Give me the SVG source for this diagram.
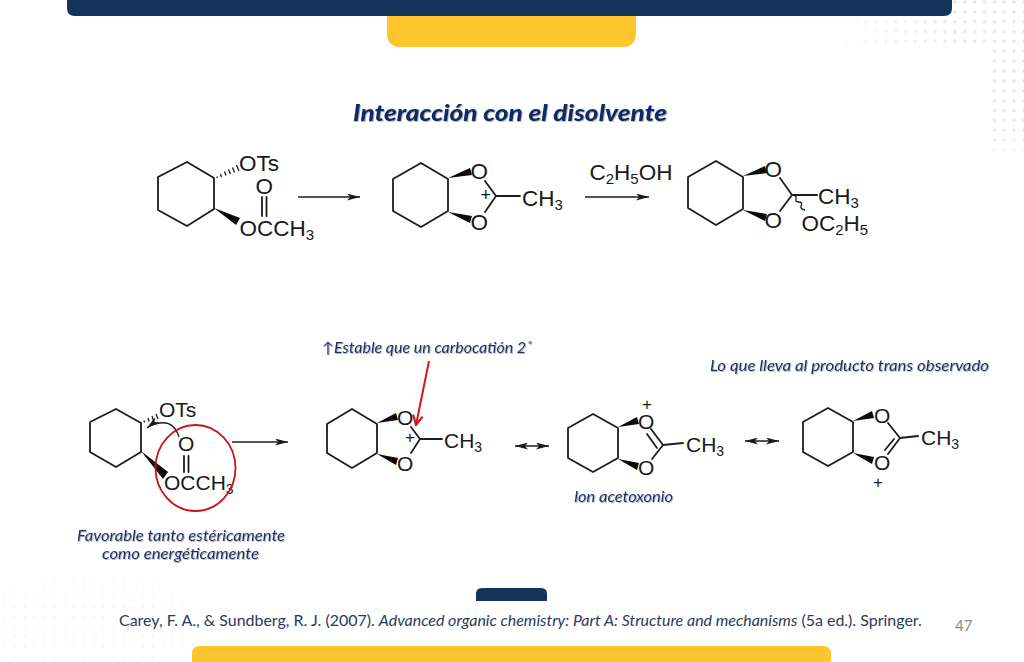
<svg xmlns="http://www.w3.org/2000/svg" width="1024" height="662" viewBox="0 0 1024 662">
<style>
.b{fill:none;stroke:#1c1c1c;stroke-width:1.8;stroke-linejoin:round;stroke-linecap:round}
.w{fill:#0a0a0a;stroke:none}
.h{fill:none;stroke:#1c1c1c;stroke-width:1.3}
.c{font-family:"Liberation Sans",Arial,sans-serif;fill:#1a1a1a}
.c1{font-size:22.500px}
.c2{font-size:21px}
.n{font-family:Lato,"Open Sans",sans-serif;font-style:italic;fill:#1f2f62;font-size:15px;filter:url(#s)}
.a{fill:none;stroke:#1c1c1c;stroke-width:1.3}
</style>
<defs>
<filter id="s" x="-5%" y="-20%" width="110%" height="150%"><feDropShadow dx="0.8" dy="0.8" stdDeviation="0.6" flood-color="#8a90a8" flood-opacity="0.8"/></filter>
<marker id="ah" viewBox="0 0 10 8" refX="10" refY="4" markerWidth="13" markerHeight="7" markerUnits="userSpaceOnUse" orient="auto-start-reverse" preserveAspectRatio="none"><path d="M0 0L10 4L0 8L2.500 4Z" fill="#1a1a1a"/></marker>
<marker id="ar" viewBox="0 0 10 10" refX="9" refY="5" markerWidth="12" markerHeight="12" markerUnits="userSpaceOnUse" orient="auto"><path d="M1 1L9 5L1 9" fill="none" stroke="#d8141c" stroke-width="1.8"/></marker>
<pattern id="dots" x="2.500" y="-3" width="9.870" height="9.870" patternUnits="userSpaceOnUse"><circle cx="4.900" cy="4.900" r="1.700" fill="#e4e4e6"/></pattern>
<pattern id="dots2" x="0" y="0" width="9.870" height="9.870" patternUnits="userSpaceOnUse"><circle cx="4.900" cy="4.900" r="1" fill="#eeeef1"/></pattern>
<linearGradient id="fx" x1="0" x2="1" y1="0" y2="0"><stop offset="0" stop-color="#000"/><stop offset="0.7" stop-color="#fff"/></linearGradient>
<linearGradient id="fy" x1="0" x2="0" y1="0" y2="1"><stop offset="0.75" stop-color="#fff"/><stop offset="1" stop-color="#000"/></linearGradient>
<radialGradient id="fb" cx="0.45" cy="1" r="1"><stop offset="0.4" stop-color="#fff"/><stop offset="1" stop-color="#000"/></radialGradient>
<mask id="m1" maskUnits="userSpaceOnUse" x="820" y="0" width="204" height="50"><rect x="820" y="0" width="204" height="50" fill="url(#fx)"/></mask>
<mask id="m2" maskUnits="userSpaceOnUse" x="988" y="50" width="36" height="110"><rect x="988" y="50" width="36" height="110" fill="url(#fy)"/></mask>
<mask id="m3" maskUnits="userSpaceOnUse" x="0" y="515" width="200" height="147"><rect x="0" y="515" width="200" height="147" fill="url(#fb)"/></mask>
</defs>
<rect width="1024" height="662" fill="#fff"/>
<g id="background">
<rect x="820" y="0" width="204" height="50" fill="url(#dots)" mask="url(#m1)"/>
<rect x="988" y="50" width="36" height="110" fill="url(#dots)" mask="url(#m2)"/>
<rect x="0" y="515" width="200" height="147" fill="url(#dots2)" mask="url(#m3)"/>
<path d="M387 16H636V33Q636 47 622 47H401Q387 47 387 33Z" fill="#fec52e"/>
<path d="M67 0H952V8Q952 16 944 16H75Q67 16 67 8Z" fill="#12335b"/>
<path d="M476 601V594Q476 588 482 588H541Q547 588 547 594V601Z" fill="#12335b"/>
<path d="M192 662V654Q192 646 200 646H823Q831 646 831 654V662Z" fill="#fec52e"/>
</g>
<text id="title" x="353" y="121" textLength="314" lengthAdjust="spacingAndGlyphs" font-family="Lato,'Open Sans',sans-serif" font-style="italic" font-weight="900" font-size="23.500" fill="#0b2a66" filter="url(#s)">Interacción con el disolvente</text>

<g id="mol1">
<path class="b" d="M214 178L187 162L158 177V210L187 226L214 209Z"/>
<path class="w" d="M214 208L240 218L236 225Z"/>
<path class="h" d="M217 176.500V178M220.500 174L221.500 177M224.500 171.500L226 175.500M228.500 169.500L230.500 174M232.500 167.500L234.500 172.500M236.500 165L239 171"/>
<path class="b" d="M262 197V216M266.500 197V216"/>
<text class="c c1" x="239" y="171">OTs</text>
<text class="c c1" x="255.500" y="194">O</text>
<text class="c c1" x="239.500" y="236">OCCH<tspan font-size="15" dy="4">3</tspan></text>
</g>
<g id="mol2">
<path class="b" d="M448 179L421 163L393 179V211L421 227L448 211Z"/>
<path class="w" d="M448 178L470 168L472 175Z"/>
<path class="w" d="M448 212L472 216L470 223Z"/>
<path class="b" d="M485 181L496 196L485 212M496 196H520"/>
<text class="c c1" x="470.500" y="179">O</text>
<text class="c c1" x="470.500" y="230">O</text>
<text class="c" font-size="18" x="480.500" y="201">+</text>
<text class="c c1" x="522" y="206">CH<tspan font-size="15" dy="4">3</tspan></text>
</g>
<g id="mol3">
<path class="b" d="M743 177L716 161L688 177V208L716 225L743 209Z"/>
<path class="w" d="M743 176L765 166L767 173Z"/>
<path class="w" d="M743 210L767 214L765 221Z"/>
<path class="b" d="M780 178L792 195L780 211M792 195H817"/>
<path class="h" d="M792 195Q797 195 796 199Q795 202 799 202Q803 202 801 206Q800 209 805 210"/>
<text class="c c1" x="764.500" y="177">O</text>
<text class="c c1" x="764.500" y="228">O</text>
<text class="c c1" x="818" y="204">CH<tspan font-size="15" dy="4">3</tspan></text>
<text class="c c1" x="801.500" y="231">OC<tspan font-size="15" dy="4">2</tspan><tspan dy="-4">H</tspan><tspan font-size="15" dy="4">5</tspan></text>
</g>
<g id="mol4">
<path class="b" d="M141 423L116 409L90 422V452L116 467L141 452Z"/>
<path class="w" d="M141 451L168 472L163 479Z"/>
<path class="h" d="M144 420.500L144.500 422.500M148 418L149 421.500M152 416L153.500 420.500M156 414L158 419"/>
<path class="b" d="M184 456V472M188.500 456V472"/>
<text class="c c2" x="159" y="417">OTs</text>
<text class="c c2" x="178" y="450.500">O</text>
<text class="c c2" x="164" y="490">OCCH<tspan font-size="14" dy="4">3</tspan></text>
</g>
<g id="mol5">
<path class="b" d="M377 424L352 409L327 424V453L352 468L377 453Z"/>
<path class="w" d="M377 423L396 413L398 420Z"/>
<path class="w" d="M377 454L398 458L396 465Z"/>
<path class="b" d="M411 427L420 439L411 453M420 439H442"/>
<text class="c c2" x="397" y="424.500">O</text>
<text class="c c2" x="397" y="470.500">O</text>
<text class="c" font-size="17" x="405" y="443">+</text>
<text class="c c2" x="444" y="448">CH<tspan font-size="14" dy="4">3</tspan></text>
</g>
<g id="mol6">
<path class="b" d="M618 428L593 414L568 428V458L593 472L618 458Z"/>
<path class="w" d="M618 427L637 417L639 424Z"/>
<path class="w" d="M618 459L639 463L637 470Z"/>
<path class="b" d="M651 429L663 445L652 459M647 434L657 448M663 445L683 443"/>
<text class="c c2" x="638" y="428.500">O</text>
<text class="c c2" x="638" y="474.500">O</text>
<text class="c" font-size="17" x="642" y="409.500">+</text>
<text class="c c2" x="686" y="452">CH<tspan font-size="14" dy="4">3</tspan></text>
</g>
<g id="mol7">
<path class="b" d="M853 422L828 408L803 422V452L828 466L853 452Z"/>
<path class="w" d="M853 421L872 411L874 418Z"/>
<path class="w" d="M853 453L874 457L872 464Z"/>
<path class="b" d="M888 423L900 438L888 454M894 439L885 450M900 438L918 436"/>
<text class="c c2" x="874" y="422.500">O</text>
<text class="c c2" x="874" y="469.500">O</text>
<text class="c" font-size="17" x="873" y="487.500">+</text>
<text class="c c2" x="921" y="445">CH<tspan font-size="14" dy="4">3</tspan></text>
</g>
<g id="connectors">
<path class="a" d="M298 197H360" marker-end="url(#ah)"/>
<path class="a" d="M585 197H649" marker-end="url(#ah)"/>
<path class="a" d="M232 442H288" marker-end="url(#ah)"/>
<path class="a" d="M515 446H549" marker-start="url(#ah)" marker-end="url(#ah)"/>
<path class="a" d="M745 441H779" marker-start="url(#ah)" marker-end="url(#ah)"/>
<path class="a" d="M179 437Q174 421 160 423Q152 424 147 428" marker-end="url(#ah)"/>
<ellipse cx="195.500" cy="468" rx="40" ry="43" fill="none" stroke="#c8141c" stroke-width="1.800"/>
<path d="M429 361L416 425" fill="none" stroke="#d8141c" stroke-width="2" marker-end="url(#ar)"/>
</g>
<g id="labels">
<text class="c c1" x="589.500" y="180">C<tspan font-size="15" dy="4">2</tspan><tspan dy="-4">H</tspan><tspan font-size="15" dy="4">5</tspan><tspan dy="-4">OH</tspan></text>
<text class="n" x="322" y="353" textLength="210" lengthAdjust="spacingAndGlyphs">↑Estable que un carbocatión 2˚</text>
<text class="n" x="710" y="371" textLength="279" lengthAdjust="spacingAndGlyphs">Lo que lleva al producto trans observado</text>
<text class="n" x="574" y="502" textLength="99" lengthAdjust="spacingAndGlyphs">Ion acetoxonio</text>
<text class="n" x="77" y="541" textLength="208" lengthAdjust="spacingAndGlyphs">Favorable tanto estéricamente</text>
<text class="n" x="102" y="559" textLength="157" lengthAdjust="spacingAndGlyphs">como energéticamente</text>
<text x="119" y="626" font-family="Lato,'Open Sans',sans-serif" font-size="15.980" fill="#2b3a5c">Carey, F. A., &amp; Sundberg, R. J. (2007). <tspan font-style="italic">Advanced organic chemistry: Part A: Structure and mechanisms</tspan> (5a ed.). Springer.</text>
<text x="955" y="631" font-family="Lato,'Open Sans',sans-serif" font-size="15" fill="#8a8a8a">47</text>
</g>
</svg>
